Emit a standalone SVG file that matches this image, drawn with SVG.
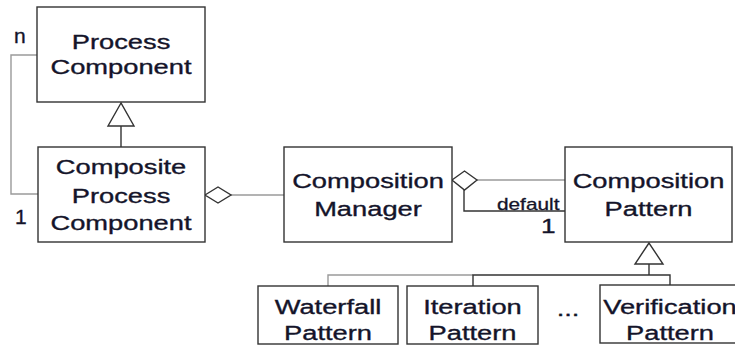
<svg xmlns="http://www.w3.org/2000/svg" width="735" height="345" viewBox="0 0 735 345">
  <style>
    .box { fill: #fff; stroke: #333; stroke-width: 1.4; }
    .t { font-family: "Liberation Sans", Arial, sans-serif; font-size: 21px; fill: #14142a; stroke: #14142a; stroke-width: 0.35; text-anchor: middle; }
    .s { font-family: "Liberation Sans", Arial, sans-serif; font-size: 16px; fill: #14142a; stroke: #14142a; stroke-width: 0.3; }
    .m { font-family: "Liberation Sans", Arial, sans-serif; font-size: 21px; fill: #14142a; stroke: #14142a; stroke-width: 0.35; }
    .dark { fill: none; stroke: #333; stroke-width: 1.4; }
    .gray { fill: none; stroke: #9a9a9a; stroke-width: 1.4; }
    .head { fill: #fff; stroke: #333; stroke-width: 1.4; }
  </style>

  <!-- connectors -->
  <g id="connectors">
    <!-- self association n..1 -->
    <path class="gray" d="M37,55 H11 V194 H38"/>
    <!-- generalisation Composite -> Process Component -->
    <path class="dark" d="M121,126 V147"/>
    <polygon class="head" points="121,103 108,126 134,126"/>
    <!-- aggregation Composite -> Manager -->
    <path class="gray" d="M231,195 H284"/>
    <polygon class="head" points="205,195 218,187 231,195 218,203"/>
    <!-- aggregation Manager -> Pattern -->
    <path class="gray" d="M477,180 H565"/>
    <path class="dark" d="M464,190 V211 H565"/>
    <polygon class="head" points="452,180 464.5,171 477,180 464.5,190"/>
    <!-- generalisation of concrete patterns -->
    <path class="dark" d="M649,264 V275"/>
    <polygon class="head" points="649,243 635,264 663,264"/>
    <path class="gray" d="M328,286 V275 H473"/>
    <path class="dark" d="M473,286 V275 H670 V286"/>
  </g>

  <!-- multiplicities and role -->
  <text class="m" x="14" y="43">n</text>
  <text class="m" x="15" y="224">1</text>
  <text class="s" transform="matrix(1.3 0 0 1 497 210)">default</text>
  <text class="m" transform="matrix(1.25 0 0 1 541 233)">1</text>

  <g id="process-component">
    <rect class="box" x="37" y="7" width="168" height="95"/>
    <text class="t" transform="matrix(1.3 0 0 1 121 49)">Process</text>
    <text class="t" transform="matrix(1.3 0 0 1 121 74)">Component</text>
  </g>

  <g id="composite-process-component">
    <rect class="box" x="38" y="147" width="167" height="95"/>
    <text class="t" transform="matrix(1.3 0 0 1 121 174)">Composite</text>
    <text class="t" transform="matrix(1.3 0 0 1 121 203)">Process</text>
    <text class="t" transform="matrix(1.3 0 0 1 121 230)">Component</text>
  </g>

  <g id="composition-manager">
    <rect class="box" x="284" y="147" width="168" height="95"/>
    <text class="t" transform="matrix(1.3 0 0 1 368 188)">Composition</text>
    <text class="t" transform="matrix(1.3 0 0 1 368 216)">Manager</text>
  </g>

  <g id="composition-pattern">
    <rect class="box" x="565" y="147" width="167" height="95"/>
    <text class="t" transform="matrix(1.3 0 0 1 648.5 188)">Composition</text>
    <text class="t" transform="matrix(1.3 0 0 1 648.5 216)">Pattern</text>
  </g>

  <g id="waterfall-pattern">
    <rect class="box" x="258" y="286" width="140" height="58"/>
    <text class="t" transform="matrix(1.3 0 0 1 328 314)">Waterfall</text>
    <text class="t" transform="matrix(1.3 0 0 1 328 340)">Pattern</text>
  </g>

  <g id="iteration-pattern">
    <rect class="box" x="407" y="286" width="131" height="58"/>
    <text class="t" transform="matrix(1.3 0 0 1 472.5 314)">Iteration</text>
    <text class="t" transform="matrix(1.3 0 0 1 472.5 340)">Pattern</text>
  </g>

  <text class="t" transform="matrix(1.3 0 0 1 568 316)">...</text>

  <g id="verification-pattern">
    <rect class="box" x="600" y="285" width="140" height="58"/>
    <text class="t" transform="matrix(1.3 0 0 1 670 314)">Verification</text>
    <text class="t" transform="matrix(1.3 0 0 1 670 340)">Pattern</text>
  </g>
</svg>
